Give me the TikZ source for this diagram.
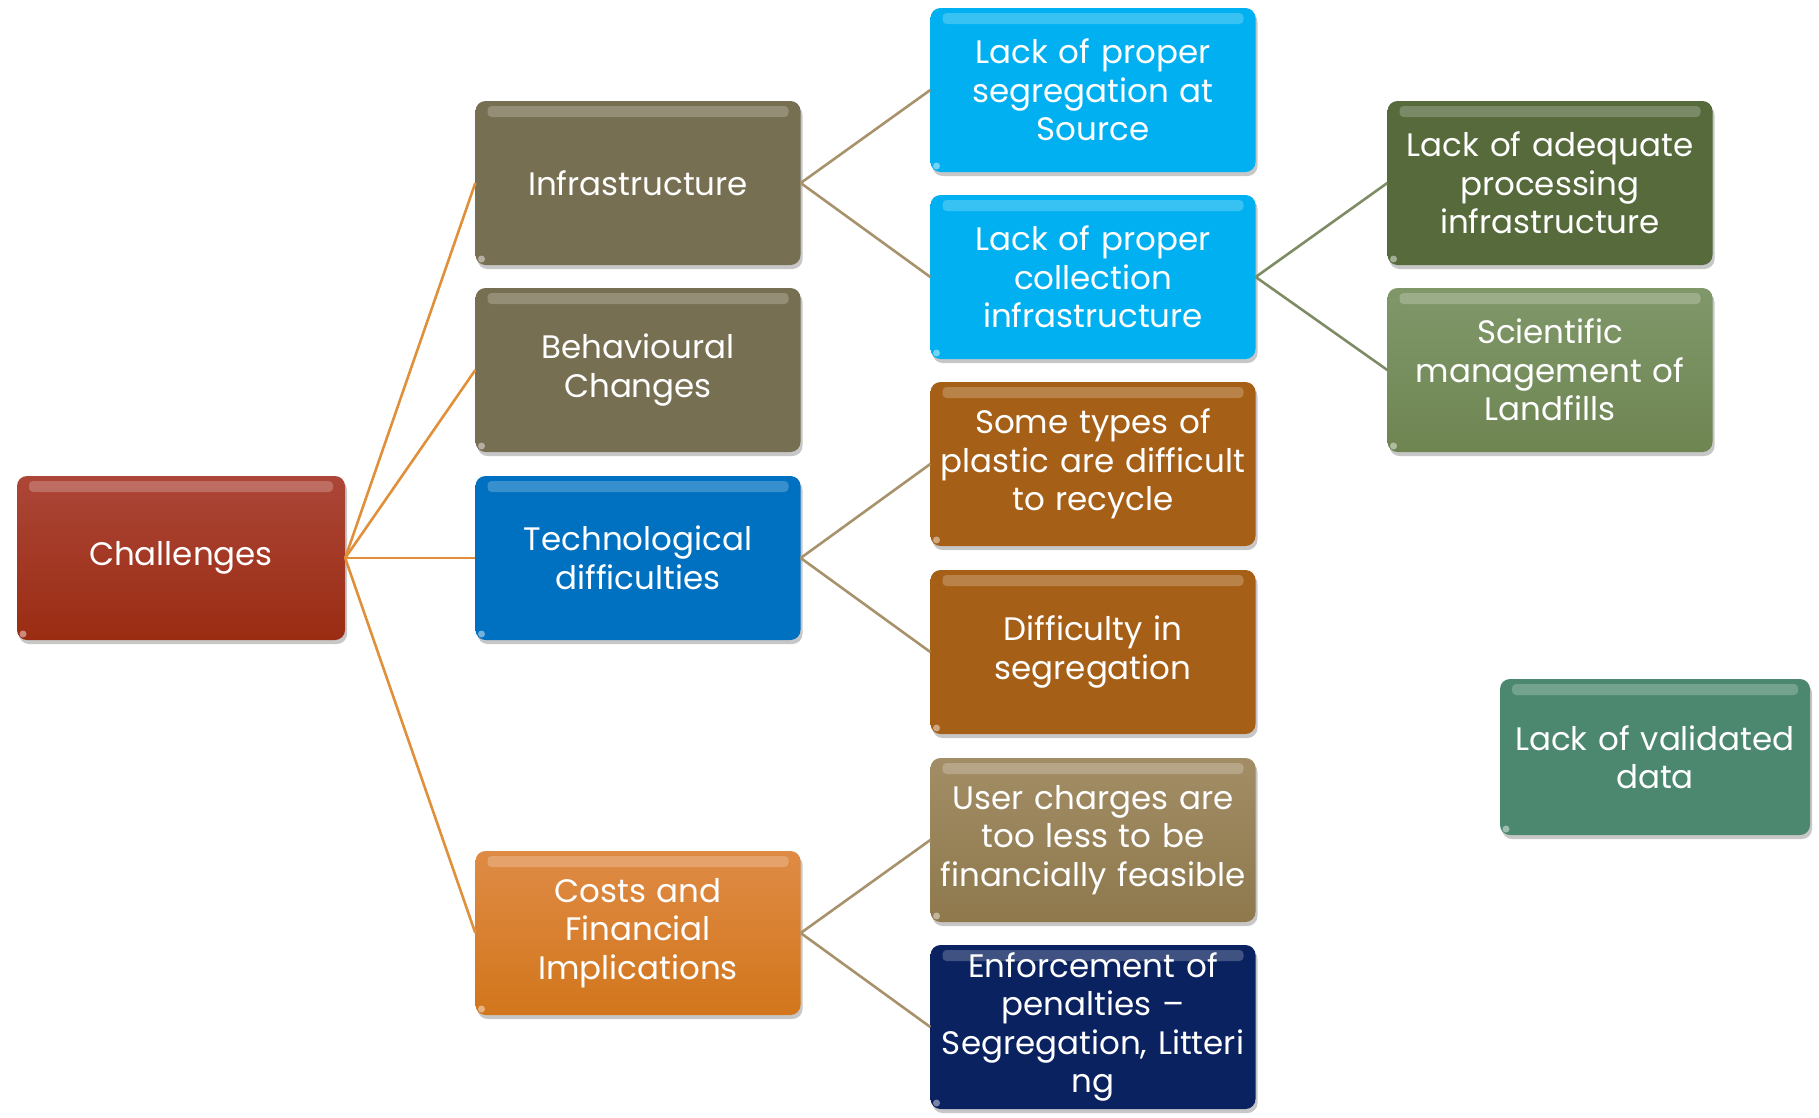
\documentclass[tikz,border=0pt]{standalone}
\usepackage{fontspec}
\setmainfont{Poppins}
\usetikzlibrary{shadows}
\tikzset{
  x=1pt, y=-1pt,
  box/.style={rounded corners=10pt, minimum width=325pt, minimum height=164pt,
    text width=322pt, align=center, text=white, inner sep=0pt,
    font=\fontsize{32.5}{38.5}\selectfont,
    drop shadow={shadow xshift=2pt, shadow yshift=-4pt, opacity=0.22, fill=black},
    path picture={
      \fill[white, opacity=0.22, rounded corners=4pt]
        ([xshift=12pt,yshift=-5pt]path picture bounding box.north west)
        rectangle ([xshift=-12pt,yshift=-16pt]path picture bounding box.north east);
      \fill[white, opacity=0.45]
        ([xshift=6pt,yshift=6pt]path picture bounding box.south west) circle (3.5pt);
    }},
  boxfill/.style 2 args={top color=#1, bottom color=#2},
  conn/.style={line width=2.6pt},
}
\definecolor{chalT}{HTML}{AC4638}
\definecolor{chalB}{HTML}{9A2C12}
\definecolor{olive}{HTML}{776F52}
\definecolor{techblue}{HTML}{0070C0}
\definecolor{costT}{HTML}{DF8B45}
\definecolor{costB}{HTML}{D2761C}
\definecolor{sky}{HTML}{00B0F0}
\definecolor{rust}{HTML}{A65F17}
\definecolor{khakiT}{HTML}{A38D66}
\definecolor{khakiB}{HTML}{8E784C}
\definecolor{navy}{HTML}{0B2260}
\definecolor{dgreen}{HTML}{566A3C}
\definecolor{mgreenT}{HTML}{80976A}
\definecolor{mgreenB}{HTML}{6E8552}
\definecolor{teal}{HTML}{4C8870}
\definecolor{lineOr}{HTML}{E0903A}
\definecolor{lineTan}{HTML}{A8926C}
\definecolor{lineGr}{HTML}{7E8C66}
\begin{document}
\begin{tikzpicture}
\useasboundingbox (0,0) rectangle (1819,1117);

\node[box, minimum width=328pt, boxfill={chalT}{chalB}] (chal) at (181,558) {Challenges};
\node[box, boxfill={olive}{olive}] (infra) at (638,183) {Infrastructure};
\node[box, boxfill={olive}{olive}] (behav) at (638,370) {Behavioural\\Changes};
\node[box, boxfill={techblue}{techblue}] (tech) at (638,558) {Technological\\difficulties};
\node[box, boxfill={costT}{costB}] (cost) at (638,933) {Costs and\\Financial\\Implications};

\node[box, boxfill={sky}{sky}] (lseg) at (1093,90) {Lack of proper\\segregation at\\Source};
\node[box, boxfill={sky}{sky}] (lcoll) at (1093,277) {Lack of proper\\collection\\infrastructure};
\node[box, boxfill={rust}{rust}] (some) at (1093,464) {Some types of\\plastic are difficult\\to recycle};
\node[box, boxfill={rust}{rust}] (diff) at (1093,652) {Difficulty in\\segregation};
\node[box, boxfill={khakiT}{khakiB}] (user) at (1093,840) {User charges are\\too less to be\\financially feasible};
\node[box, boxfill={navy}{navy}] (enf) at (1093,1027) {Enforcement of\\penalties –\\Segregation, Litteri\\ng};

\node[box, boxfill={dgreen}{dgreen}] (adeq) at (1550,183) {Lack of adequate\\processing\\infrastructure};
\node[box, boxfill={mgreenT}{mgreenB}] (sci) at (1550,370) {Scientific\\management of\\Landfills};
\node[box, minimum width=310pt, minimum height=156pt, text width=308pt, boxfill={teal}{teal}] (valid) at (1655,757) {Lack of validated\\data};

\draw[conn, lineOr] (chal.east) -- (infra.west);
\draw[conn, lineOr] (chal.east) -- (behav.west);
\draw[conn, lineOr] (chal.east) -- (tech.west);
\draw[conn, lineOr] (chal.east) -- (cost.west);
\draw[conn, lineTan] (infra.east) -- (lseg.west);
\draw[conn, lineTan] (infra.east) -- (lcoll.west);
\draw[conn, lineTan] (tech.east) -- (some.west);
\draw[conn, lineTan] (tech.east) -- (diff.west);
\draw[conn, lineTan] (cost.east) -- (user.west);
\draw[conn, lineTan] (cost.east) -- (enf.west);
\draw[conn, lineGr] (lcoll.east) -- (adeq.west);
\draw[conn, lineGr] (lcoll.east) -- (sci.west);
\end{tikzpicture}
\end{document}
